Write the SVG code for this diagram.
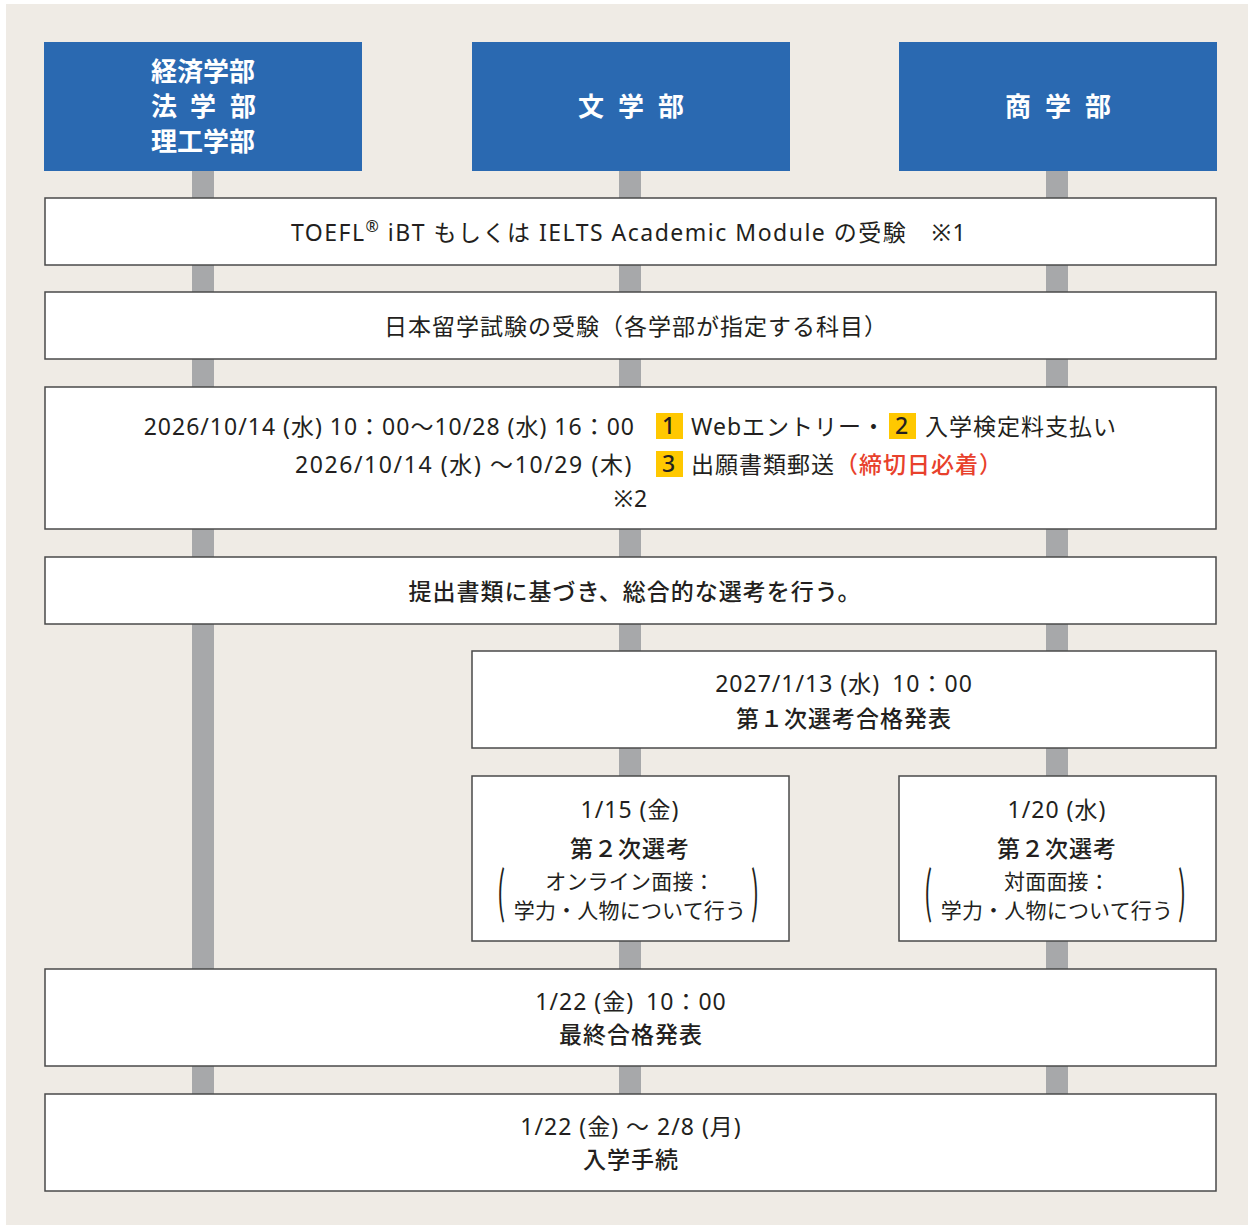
<svg xmlns="http://www.w3.org/2000/svg" width="1253" height="1225" viewBox="0 0 1253 1225">
<style>
text{font-family:"Noto Sans","Noto Sans CJK JP",sans-serif;fill:#231f20;font-size:23px;letter-spacing:1px}
.h{fill:#fff;font-weight:700;font-size:26px;font-family:"Noto Sans CJK JP",sans-serif;letter-spacing:0}
.hs{letter-spacing:14px}
.b{font-weight:500}
.c{text-anchor:middle}
.e{text-anchor:end}
.s{font-size:21px;letter-spacing:0.2px}
.box{fill:#fff;stroke:#4a4a4a;stroke-width:1.5}
.hd{fill:#2a69b1}
.bar{fill:#a7a8aa}
.bd{fill:#ffc800}
.par{font-size:44px;font-weight:400;font-family:"Noto Sans CJK JP",sans-serif;letter-spacing:0}
</style>
<rect x="6" y="4" width="1242" height="1221" fill="#efebe5"/>
<g id="connectors">
<rect class="bar" x="192" y="170" width="22" height="925"/>
<rect class="bar" x="619" y="170" width="22" height="925"/>
<rect class="bar" x="1046" y="170" width="22" height="925"/>
</g>
<g id="h1"><rect class="hd" x="44" y="42" width="318" height="129"/>
<text class="h" x="151" y="81">経済学部</text>
<text class="h" y="116"><tspan x="151">法</tspan><tspan x="190">学</tspan><tspan x="230">部</tspan></text>
<text class="h" x="151" y="151">理工学部</text></g>
<g id="h2"><rect class="hd" x="472" y="42" width="318" height="129"/>
<text class="h hs c" x="638" y="116">文学部</text></g>
<g id="h3"><rect class="hd" x="899" y="42" width="318" height="129"/>
<text class="h hs c" x="1065" y="116">商学部</text></g>
<g id="n1"><rect class="box" x="45" y="198" width="1171" height="67"/>
<text x="291" y="241" style="letter-spacing:1.5px">TOEFL<tspan font-size="16" dy="-9">®</tspan><tspan dy="9"> iBT もしくは IELTS Academic Module の受験　※1</tspan></text></g>
<g id="n2"><rect class="box" x="45" y="292" width="1171" height="67"/>
<text class="c" x="636" y="335">日本留学試験の受験（各学部が指定する科目）</text></g>
<g id="n3"><rect class="box" x="45" y="387" width="1171" height="142"/>
<text class="e" x="635" y="435">2026/10/14 (水) 10：00～10/28 (水) 16：00</text>
<text class="e" x="633" y="473" style="letter-spacing:1.6px">2026/10/14 (水) ～10/29 (木)</text>
<text class="c" x="631" y="507">※2</text>
<rect class="bd" x="656" y="413" width="27" height="26"/>
<text class="b c" x="669" y="434" font-size="21">1</text>
<text x="691" y="435">Webエントリー・</text>
<rect class="bd" x="889" y="413" width="27" height="26"/>
<text class="b c" x="902" y="434" font-size="21">2</text>
<text x="925" y="435">入学検定料支払い</text>
<rect class="bd" x="656" y="451" width="27" height="26"/>
<text class="b c" x="669" y="472" font-size="21">3</text>
<text x="691" y="473">出願書類郵送<tspan class="b" style="fill:#e8412c">（締切日必着）</tspan></text></g>
<g id="n4"><rect class="box" x="45" y="557" width="1171" height="67"/>
<text class="c b" x="635" y="600">提出書類に基づき、総合的な選考を行う。</text></g>
<g id="n5"><rect class="box" x="472" y="651" width="744" height="97"/>
<text class="c" x="844" y="692">2027/1/13 (水)<tspan dx="12">10：00</tspan></text>
<text class="c b" x="844" y="727">第１次選考合格発表</text></g>
<g id="n6a"><rect class="box" x="472" y="776" width="317" height="165"/>
<text class="c" x="630" y="818">1/15 (金)</text>
<text class="c b" x="630" y="857">第２次選考</text>
<text class="c s" x="630" y="889">オンライン面接：</text>
<text class="c s" x="630" y="918">学力・人物について行う</text>
<text class="par" transform="translate(497,912) scale(0.55,1.25)">(</text>
<text class="par" transform="translate(751,912) scale(0.55,1.25)">)</text></g>
<g id="n6b"><rect class="box" x="899" y="776" width="317" height="165"/>
<text class="c" x="1057" y="818">1/20 (水)</text>
<text class="c b" x="1057" y="857">第２次選考</text>
<text class="c s" x="1057" y="889">対面面接：</text>
<text class="c s" x="1057" y="918">学力・人物について行う</text>
<text class="par" transform="translate(924,912) scale(0.55,1.25)">(</text>
<text class="par" transform="translate(1178,912) scale(0.55,1.25)">)</text></g>
<g id="n7"><rect class="box" x="45" y="969" width="1171" height="97"/>
<text class="c" x="631" y="1010">1/22 (金)<tspan dx="12">10：00</tspan></text>
<text class="c b" x="631" y="1043">最終合格発表</text></g>
<g id="n8"><rect class="box" x="45" y="1094" width="1171" height="97"/>
<text class="c" x="631" y="1135">1/22 (金) ～ 2/8 (月)</text>
<text class="c b" x="631" y="1168">入学手続</text></g>
</svg>
